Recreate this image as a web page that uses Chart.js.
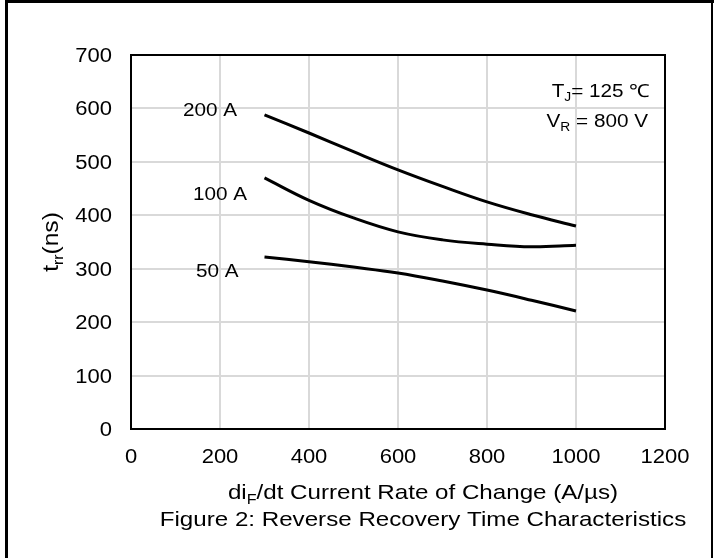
<!DOCTYPE html>
<html>
<head>
<meta charset="utf-8">
<script src="https://cdn.jsdelivr.net/npm/chart.js@4.4.1/dist/chart.umd.min.js"></script>
<style>
  body { margin: 0; background: #fff; }
  #wrap { position: relative; width: 715px; height: 558px; }
</style>
</head>
<body>
<div id="wrap"><canvas id="trrChart"></canvas></div>
<script>
// di/dt values (A/µs)
const rate = [300, 400, 500, 600, 700, 800, 900, 1000];
// trr (ns) for each forward current
const trr200A = [588, 554, 519, 485, 454, 425, 401, 380];
const trr100A = [470, 428, 395, 369, 354, 346, 341, 344];
const trr50A = [322, 313, 303, 292, 277, 260, 241, 221];

const curveLabels = ["200 A", "100 A", "50 A"];
const xTicks = [0, 200, 400, 600, 800, 1000, 1200];
const yTicks = [0, 100, 200, 300, 400, 500, 600, 700];

const FONT = '"Liberation Sans", Arial, sans-serif';
const STRETCH = 1.15; // the original text is a bit wider than plain Arial

const toPoints = (ys) => rate.map((x, i) => ({ x: x, y: ys[i] }));

// draws text with subscripts, parts = [[text, isSub], ...]
function richText(ctx, parts, x, y, size, align, sx) {
  const subSize = Math.round(size * 0.65);
  let total = 0;
  parts.forEach(([t, sub]) => {
    ctx.font = (sub ? subSize : size) + "px " + FONT;
    total += ctx.measureText(t).width;
  });
  let cx = 0;
  if (align === "center") cx = -total / 2;
  if (align === "right") cx = -total;
  ctx.save();
  ctx.translate(x, y);
  ctx.scale(sx || 1, 1);
  ctx.textAlign = "left";
  ctx.textBaseline = "alphabetic";
  parts.forEach(([t, sub]) => {
    ctx.font = (sub ? subSize : size) + "px " + FONT;
    ctx.fillText(t, cx, sub ? size * 0.22 : 0);
    cx += ctx.measureText(t).width;
  });
  ctx.restore();
}

const framePlugin = {
  id: "frame",
  beforeDraw(chart) {
    const ctx = chart.ctx;
    ctx.save();
    ctx.fillStyle = "#fff";
    ctx.fillRect(0, 0, chart.width, chart.height);
    ctx.fillStyle = "#000";
    ctx.fillRect(5, 0, 3, chart.height);
    ctx.fillRect(5, 0, 709, 3);
    ctx.fillRect(711, 0, 2, chart.height);
    ctx.restore();
  },
  afterDatasetsDraw(chart) {
    const { ctx, chartArea: a } = chart;
    ctx.save();
    ctx.strokeStyle = "#000";
    ctx.lineWidth = 2;
    ctx.strokeRect(a.left, a.top, a.right - a.left, a.bottom - a.top);
    ctx.restore();
  },
  afterDraw(chart) {
    const ctx = chart.ctx;
    const xs = chart.scales.x;
    const ys = chart.scales.y;
    ctx.save();
    ctx.fillStyle = "#000";

    // tick labels, placed through the chart's scales
    xTicks.forEach((v) => {
      richText(ctx, [[String(v), false]], xs.getPixelForValue(v), 463, 20, "center", 1.1);
    });
    yTicks.forEach((v) => {
      richText(ctx, [[String(v), false]], 112, ys.getPixelForValue(v) + 7, 20, "right", 1.1);
    });

    // curve labels
    richText(ctx, [[curveLabels[0], false]], 183, 116, 18, "left", STRETCH);
    richText(ctx, [[curveLabels[1], false]], 193, 200, 18, "left", STRETCH);
    richText(ctx, [[curveLabels[2], false]], 196, 277, 18, "left", STRETCH);

    // conditions
    richText(ctx, [["T", false], ["J", true], ["= 125 ℃", false]], 650, 97, 18, "right", STRETCH);
    richText(ctx, [["V", false], ["R", true], [" = 800 V", false]], 648, 127, 18, "right", STRETCH);

    // axis title and figure caption
    richText(ctx, [["di", false], ["F", true], ["/dt Current Rate of Change (A/µs)", false]], 423, 499, 21, "center", STRETCH);
    richText(ctx, [["Figure 2: Reverse Recovery Time Characteristics", false]], 423, 526, 21, "center", STRETCH);

    ctx.translate(58, 242);
    ctx.rotate(-Math.PI / 2);
    richText(ctx, [["t", false], ["rr", true], ["(ns)", false]], 0, 0, 22, "center", 1.12);
    ctx.restore();
  },
};

const lineStyle = {
  borderColor: "#000",
  borderWidth: 3,
  pointRadius: 0,
  tension: 0.4,
  fill: false,
};

new Chart(document.getElementById("trrChart"), {
  type: "line",
  data: {
    datasets: [
      { label: curveLabels[0], data: toPoints(trr200A), ...lineStyle },
      { label: curveLabels[1], data: toPoints(trr100A), ...lineStyle },
      { label: curveLabels[2], data: toPoints(trr50A), ...lineStyle },
    ],
  },
  options: {
    responsive: true,
    maintainAspectRatio: false,
    animation: false,
    layout: { padding: { top: 55, right: 50, left: 0, bottom: 0 } },
    plugins: { legend: { display: false }, tooltip: { enabled: false } },
    scales: {
      x: {
        type: "linear",
        min: 0,
        max: 1200,
        afterFit: (s) => { s.height = 129; },
        afterBuildTicks: (s) => { s.ticks = xTicks.map((v) => ({ value: v })); },
        grid: { color: "#d9d9d9", lineWidth: 2, drawTicks: false },
        border: { display: false },
        ticks: { display: false },
      },
      y: {
        min: 0,
        max: 700,
        afterFit: (s) => { s.width = 131; },
        afterBuildTicks: (s) => { s.ticks = yTicks.map((v) => ({ value: v })); },
        grid: { color: "#d9d9d9", lineWidth: 2, drawTicks: false },
        border: { display: false },
        ticks: { display: false },
      },
    },
  },
  plugins: [framePlugin],
});
</script>
</body>
</html>
